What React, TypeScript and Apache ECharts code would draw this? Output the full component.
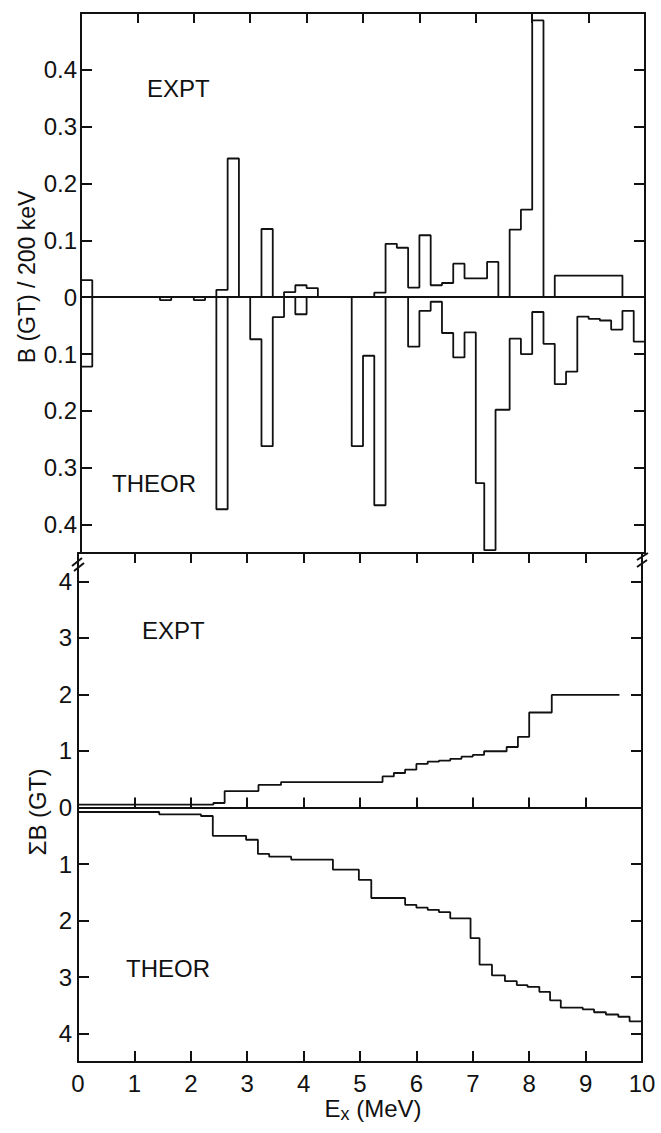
import React, { useEffect, useRef } from "react";
import * as echarts from "echarts";

// ---------- Top panel: B(GT) per 200 keV bin (MeV edges) ----------
const exptBinStart = [0, 2.4, 2.6, 3.2, 3.6, 3.8, 4.0, 5.2, 5.4, 5.6, 5.8, 6.0, 6.2, 6.4, 6.6, 6.8, 7.2, 7.6, 7.8, 8.0, 8.4];
const exptBinEnd = [0.2, 2.6, 2.8, 3.4, 3.8, 4.0, 4.2, 5.4, 5.6, 5.8, 6.0, 6.2, 6.4, 6.6, 6.8, 7.2, 7.4, 7.8, 8.0, 8.2, 9.6];
const exptBinValue = [0.03, 0.013, 0.244, 0.12, 0.009, 0.021, 0.016, 0.008, 0.094, 0.087, 0.017, 0.109, 0.021, 0.025, 0.059, 0.033, 0.062, 0.119, 0.154, 0.487, 0.038];

const theorBinStart = [0, 1.4, 2.0, 2.4, 3.0, 3.2, 3.4, 3.8, 4.8, 5.0, 5.2, 5.8, 6.0, 6.2, 6.4, 6.6, 6.8, 7.0, 7.15, 7.35, 7.6, 7.8, 8.0, 8.2, 8.4, 8.6, 8.8, 9.0, 9.2, 9.4, 9.6, 9.8];
const theorBinEnd = [0.2, 1.6, 2.2, 2.6, 3.2, 3.4, 3.6, 4.0, 5.0, 5.2, 5.4, 6.0, 6.2, 6.4, 6.6, 6.8, 7.0, 7.15, 7.35, 7.6, 7.8, 8.0, 8.2, 8.4, 8.6, 8.8, 9.0, 9.2, 9.4, 9.6, 9.8, 10.0];
const theorBinValue = [0.122, 0.005, 0.005, 0.373, 0.074, 0.262, 0.035, 0.03, 0.262, 0.103, 0.366, 0.087, 0.024, 0.008, 0.063, 0.106, 0.062, 0.327, 0.445, 0.198, 0.073, 0.1, 0.026, 0.082, 0.153, 0.131, 0.034, 0.038, 0.041, 0.057, 0.024, 0.078];

// ---------- Bottom panel: running sum ΣB(GT) (step x positions, level after each step) ----------
const exptSumX = [0, 2.4, 2.6, 3.2, 3.6, 5.4, 5.6, 5.8, 6.0, 6.2, 6.4, 6.6, 6.8, 7.0, 7.2, 7.6, 7.8, 8.0, 8.4, 9.6];
const exptSumLevel = [0.05, 0.08, 0.29, 0.4, 0.45, 0.55, 0.61, 0.67, 0.77, 0.81, 0.83, 0.86, 0.9, 0.93, 0.995, 1.07, 1.25, 1.68, 1.99];

const theorSumX = [0, 1.44, 2.18, 2.39, 2.98, 3.19, 3.39, 3.78, 4.52, 4.98, 5.2, 5.8, 6.0, 6.2, 6.4, 6.6, 6.96, 7.12, 7.34, 7.57, 7.78, 7.97, 8.18, 8.37, 8.56, 8.95, 9.15, 9.36, 9.58, 9.78, 10];
const theorSumLevel = [0.08, 0.12, 0.15, 0.5, 0.57, 0.82, 0.87, 0.92, 1.1, 1.28, 1.6, 1.72, 1.77, 1.81, 1.85, 1.96, 2.31, 2.78, 2.97, 3.07, 3.14, 3.17, 3.26, 3.41, 3.54, 3.57, 3.62, 3.66, 3.7, 3.78];

// ---------- Axis tick values ----------
const xTickValues = [1, 2, 3, 4, 5, 6, 7, 8, 9];
const xLabelValues = [0, 1, 2, 3, 4, 5, 6, 7, 8, 9, 10];
const topYTicks = [-0.4, -0.3, -0.2, -0.1, 0, 0.1, 0.2, 0.3, 0.4];
const topYRightTicks = [-0.4, -0.3, -0.2, -0.1, 0.1, 0.2, 0.3, 0.4];
const botYTicks = [-4, -3, -2, -1, 0, 1, 2, 3, 4];
const botYRightTicks = [-4, -3, -2, -1, 1, 2, 3, 4];

const INK = "#111";
const FONT = "'Liberation Sans', Arial, sans-serif";

function histPoints(starts: number[], ends: number[], vals: number[], sign: number) {
  const pts: number[][] = [];
  for (let i = 0; i < starts.length; i++) {
    if (i === 0 || Math.abs(starts[i] - ends[i - 1]) > 1e-9) {
      if (i > 0) pts.push([ends[i - 1], 0]);
      pts.push([starts[i], 0]);
    }
    pts.push([starts[i], sign * vals[i]], [ends[i], sign * vals[i]]);
  }
  pts.push([ends[ends.length - 1], 0]);
  return pts;
}

function stepPoints(xs: number[], levels: number[], sign: number) {
  const pts: number[][] = [];
  for (let i = 0; i < levels.length; i++) {
    pts.push([xs[i], sign * levels[i]], [xs[i + 1], sign * levels[i]]);
  }
  return pts;
}

const axisLineStyle = { color: INK, width: 2 };

export default function App() {
  const ref = useRef<HTMLDivElement>(null);
  useEffect(() => {
    if (!ref.current) return;
    const chart = echarts.init(ref.current, undefined, { renderer: "svg" });
    const xBase = { type: "value", min: 0, max: 10, splitLine: { show: false } };
    const dataLine = { color: INK, width: 1.8 };
    const zeroMark = {
      silent: true,
      symbol: ["none", "none"],
      label: { show: false },
      lineStyle: { color: INK, width: 2, type: "solid" },
      data: [{ yAxis: 0 }],
    };
    const option = {
      animation: false,
      backgroundColor: "#ffffff",
      grid: [
        { left: 81, top: 13, width: 564, height: 540 },
        { left: 78, top: 553, width: 564, height: 509 },
      ],
      xAxis: [
        { ...xBase, gridIndex: 0, position: "bottom", axisLine: { show: true, onZero: false, lineStyle: axisLineStyle }, axisTick: { show: false }, axisLabel: { show: false } },
        { ...xBase, gridIndex: 0, position: "top", axisLine: { show: true, onZero: false, lineStyle: axisLineStyle }, axisTick: { show: true, inside: true, length: 10, customValues: xTickValues, lineStyle: axisLineStyle }, axisLabel: { show: false } },
        { ...xBase, gridIndex: 1, position: "bottom", axisLine: { show: true, onZero: false, lineStyle: axisLineStyle }, axisTick: { show: true, inside: true, length: 11, customValues: xTickValues, lineStyle: axisLineStyle }, axisLabel: { show: true, customValues: xLabelValues, color: INK, fontSize: 24, fontFamily: FONT, margin: 9 } },
        { ...xBase, gridIndex: 1, position: "top", axisLine: { show: true, onZero: false, lineStyle: axisLineStyle }, axisTick: { show: true, inside: true, length: 10, customValues: xTickValues, lineStyle: axisLineStyle }, axisLabel: { show: false } },
        { ...xBase, gridIndex: 1, position: "top", axisLine: { show: false }, axisTick: { show: true, inside: false, length: 10, customValues: xTickValues, lineStyle: axisLineStyle }, axisLabel: { show: false } },
      ],
      yAxis: [
        { type: "value", gridIndex: 0, position: "left", min: -0.45, max: 0.5, splitLine: { show: false }, axisLine: { show: true, onZero: false, lineStyle: axisLineStyle }, axisTick: { show: true, inside: true, length: 11, customValues: topYTicks, lineStyle: axisLineStyle }, axisLabel: { show: true, customValues: topYTicks, margin: 4, color: INK, fontSize: 24, fontFamily: FONT, formatter: (v: number) => (Math.abs(v) < 1e-9 ? "0" : Math.abs(v).toFixed(1)) } },
        { type: "value", gridIndex: 0, position: "right", min: -0.45, max: 0.5, splitLine: { show: false }, axisLine: { show: true, onZero: false, lineStyle: axisLineStyle }, axisTick: { show: true, inside: true, length: 11, customValues: topYRightTicks, lineStyle: axisLineStyle }, axisLabel: { show: false } },
        { type: "value", gridIndex: 1, position: "left", min: -4.5, max: 4.5, splitLine: { show: false }, axisLine: { show: true, onZero: false, lineStyle: axisLineStyle }, axisTick: { show: true, inside: true, length: 11, customValues: botYTicks, lineStyle: axisLineStyle }, axisLabel: { show: true, customValues: botYTicks, margin: 6, color: INK, fontSize: 24, fontFamily: FONT, formatter: (v: number) => String(Math.abs(v)) } },
        { type: "value", gridIndex: 1, position: "right", min: -4.5, max: 4.5, splitLine: { show: false }, axisLine: { show: true, onZero: false, lineStyle: axisLineStyle }, axisTick: { show: true, inside: true, length: 11, customValues: botYRightTicks, lineStyle: axisLineStyle }, axisLabel: { show: false } },
      ],
      series: [
        { name: "EXPT B(GT)", type: "line", xAxisIndex: 0, yAxisIndex: 0, data: histPoints(exptBinStart, exptBinEnd, exptBinValue, 1), symbol: "none", lineStyle: dataLine, markLine: zeroMark },
        { name: "THEOR B(GT)", type: "line", xAxisIndex: 0, yAxisIndex: 0, data: histPoints(theorBinStart, theorBinEnd, theorBinValue, -1), symbol: "none", lineStyle: dataLine },
        { name: "EXPT ΣB(GT)", type: "line", xAxisIndex: 2, yAxisIndex: 2, data: stepPoints(exptSumX, exptSumLevel, 1), symbol: "none", lineStyle: dataLine, markLine: zeroMark },
        { name: "THEOR ΣB(GT)", type: "line", xAxisIndex: 2, yAxisIndex: 2, data: stepPoints(theorSumX, theorSumLevel, -1), symbol: "none", lineStyle: dataLine },
      ],
      graphic: [
        { type: "text", x: 27, y: 277, rotation: Math.PI / 2, style: { text: "B (GT) / 200 keV", fill: INK, fontSize: 23, fontFamily: FONT, align: "center", verticalAlign: "middle" } },
        { type: "text", x: 37, y: 812, rotation: Math.PI / 2, style: { text: "ΣB (GT)", fill: INK, fontSize: 24, fontFamily: FONT, align: "center", verticalAlign: "middle" } },
        { type: "text", x: 147, y: 88, style: { text: "EXPT", fill: INK, fontSize: 24, fontFamily: FONT, align: "left", verticalAlign: "middle" } },
        { type: "text", x: 112, y: 483, style: { text: "THEOR", fill: INK, fontSize: 24, fontFamily: FONT, align: "left", verticalAlign: "middle" } },
        { type: "text", x: 142, y: 630, style: { text: "EXPT", fill: INK, fontSize: 24, fontFamily: FONT, align: "left", verticalAlign: "middle" } },
        { type: "text", x: 126, y: 968, style: { text: "THEOR", fill: INK, fontSize: 24, fontFamily: FONT, align: "left", verticalAlign: "middle" } },
        {
          type: "text", x: 373, y: 1108,
          style: {
            text: "{e|E}{s|x}{n| (MeV)}", fill: INK, fontFamily: FONT, align: "center", verticalAlign: "middle",
            rich: {
              e: { fontSize: 24, fontFamily: FONT, fill: INK, lineHeight: 30, verticalAlign: "middle" },
              s: { fontSize: 18, fontFamily: FONT, fill: INK, lineHeight: 30, verticalAlign: "bottom", padding: [12, 0, 0, 0] },
              n: { fontSize: 24, fontFamily: FONT, fill: INK, lineHeight: 30, verticalAlign: "middle" },
            },
          },
        },
        { type: "line", shape: { x1: 72, y1: 566, x2: 82, y2: 558 }, style: { stroke: INK, lineWidth: 2 } },
        { type: "line", shape: { x1: 74, y1: 571, x2: 84, y2: 563 }, style: { stroke: INK, lineWidth: 2 } },
        { type: "line", shape: { x1: 637, y1: 560, x2: 648, y2: 553 }, style: { stroke: INK, lineWidth: 2 } },
        { type: "line", shape: { x1: 637, y1: 567, x2: 647, y2: 560 }, style: { stroke: INK, lineWidth: 2 } },
      ],
    };
    chart.setOption(option as any);
    return () => chart.dispose();
  }, []);
  return (
    <div
      ref={ref}
      style={{ position: "absolute", left: 0, top: 0, width: 661, height: 1133, background: "#fff" }}
    />
  );
}
